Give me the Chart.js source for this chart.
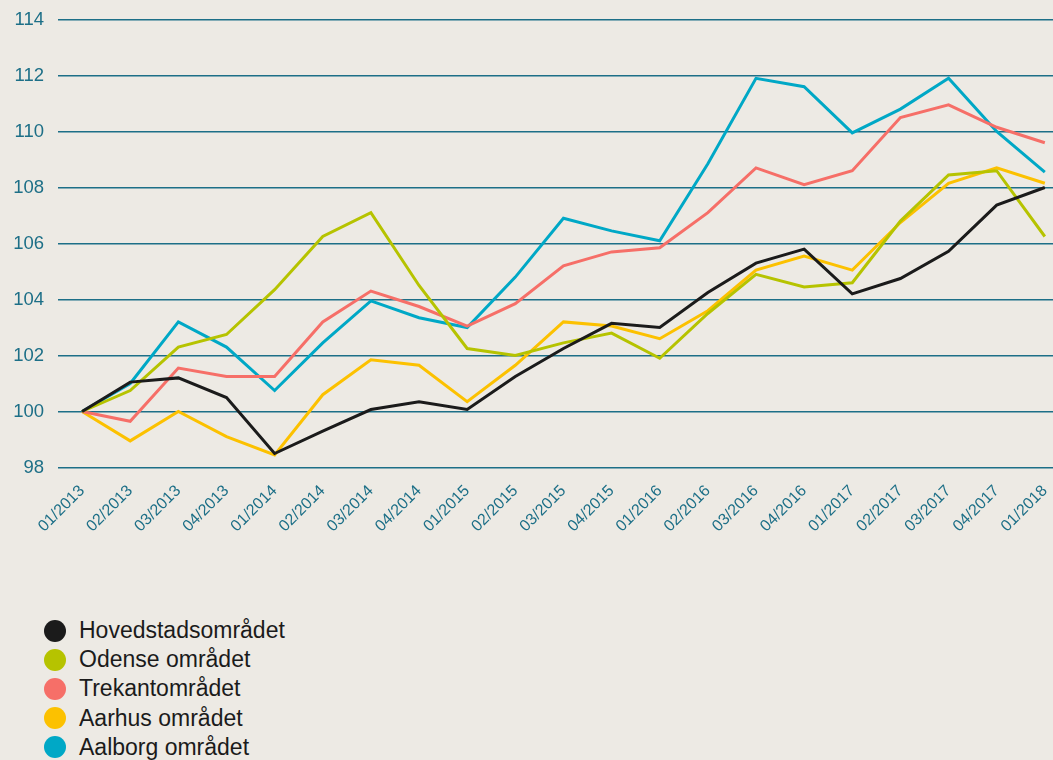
<!DOCTYPE html>
<html>
<head>
<meta charset="utf-8">
<script src="https://cdn.jsdelivr.net/npm/chart.js@4"></script>
<style>
  html, body { margin: 0; padding: 0; background: #edeae4; }
  body { width: 1053px; height: 760px; overflow: hidden; position: relative; font-family: "Liberation Sans", Arial, sans-serif; }
  #wrap { position: absolute; left: 0; top: 0; width: 1053px; height: 560px; }
  #legend { position: absolute; left: 44px; top: 616px; margin: 0; padding: 0; list-style: none; }
  #legend li { height: 29.2px; display: flex; align-items: center; font-size: 23px; color: #1b1b1b; }
  #legend .dot { width: 22px; height: 22px; border-radius: 50%; margin-right: 13px; flex: none; }
</style>
</head>
<body>
<div id="wrap"><canvas id="chart"></canvas></div>
<ul id="legend"></ul>
<script>
const xLabels = [
  "01/2013", "02/2013", "03/2013", "04/2013",
  "01/2014", "02/2014", "03/2014", "04/2014",
  "01/2015", "02/2015", "03/2015", "04/2015",
  "01/2016", "02/2016", "03/2016", "04/2016",
  "01/2017", "02/2017", "03/2017", "04/2017",
  "01/2018"
];
const yTicks = [98, 100, 102, 104, 106, 108, 110, 112, 114];

const hovedstad = [100, 101.05, 101.2, 100.5, 98.5, 99.3, 100.07, 100.35, 100.07, 101.25, 102.25, 103.15, 103.0, 104.25, 105.3, 105.8, 104.2, 104.75, 105.72, 107.37, 108.0];
const odense = [100, 100.75, 102.3, 102.75, 104.35, 106.25, 107.1, 104.5, 102.25, 102.0, 102.45, 102.8, 101.9, 103.5, 104.9, 104.45, 104.6, 106.8, 108.45, 108.6, 106.25];
const trekant = [100, 99.65, 101.55, 101.25, 101.25, 103.2, 104.3, 103.75, 103.05, 103.85, 105.2, 105.7, 105.85, 107.1, 108.7, 108.1, 108.6, 110.5, 110.95, 110.15, 109.6];
const aarhus = [100, 98.95, 100.0, 99.1, 98.45, 100.6, 101.85, 101.65, 100.35, 101.65, 103.2, 103.05, 102.6, 103.6, 105.05, 105.55, 105.05, 106.75, 108.15, 108.7, 108.15];
const aalborg = [100, 101.0, 103.2, 102.3, 100.75, 102.45, 103.95, 103.35, 103.0, 104.8, 106.9, 106.45, 106.1, 108.85, 111.9, 111.6, 109.95, 110.8, 111.9, 110.0, 108.55];

const series = [
  { name: "Hovedstadsområdet", values: hovedstad, color: "#1b1b1b" },
  { name: "Odense området", values: odense, color: "#b6c300" },
  { name: "Trekantområdet", values: trekant, color: "#f66f68" },
  { name: "Aarhus området", values: aarhus, color: "#fcc100" },
  { name: "Aalborg området", values: aalborg, color: "#00a8c6" }
];

const teal = "#1d6f87";

const ctx = document.getElementById("chart").getContext("2d");
new Chart(ctx, {
  type: "line",
  data: {
    datasets: series.map((s) => ({
      label: s.name,
      data: s.values.map((v, i) => ({ x: i, y: v })),
      borderColor: s.color,
      backgroundColor: s.color,
      borderWidth: 3,
      pointRadius: 0,
      tension: 0,
      fill: false
    }))
  },
  options: {
    responsive: true,
    maintainAspectRatio: false,
    animation: false,
    layout: { padding: { top: 19.5, right: 0, left: 0, bottom: 0 } },
    plugins: {
      legend: { display: false },
      tooltip: { enabled: false }
    },
    scales: {
      x: {
        type: "linear",
        min: -0.5,
        max: 20.17,
        border: { display: false },
        grid: { display: false, drawTicks: false },
        afterBuildTicks: (scale) => {
          scale.ticks = xLabels.map((_, i) => ({ value: i }));
        },
        afterFit: (scale) => {
          scale.height = 92.5;
          scale.paddingLeft = 0;
          scale.paddingRight = 0;
        },
        ticks: {
          autoSkip: false,
          maxRotation: 45,
          minRotation: 45,
          padding: 14,
          color: teal,
          font: { family: "'Liberation Sans', Arial, sans-serif", size: 16 },
          callback: (v) => xLabels[v]
        }
      },
      y: {
        min: 98,
        max: 114,
        border: { display: false },
        afterBuildTicks: (scale) => {
          scale.ticks = yTicks.map((v) => ({ value: v }));
        },
        afterFit: (scale) => {
          scale.width = 58;
          scale.paddingTop = 0;
          scale.paddingBottom = 0;
        },
        grid: { color: teal, lineWidth: 1.6, drawTicks: false },
        ticks: {
          padding: 14,
          color: teal,
          font: { family: "'Liberation Sans', Arial, sans-serif", size: 18.5 }
        }
      }
    }
  }
});

const legendEl = document.getElementById("legend");
series.forEach((s) => {
  const li = document.createElement("li");
  li.innerHTML = `<span class="dot" style="background:${s.color}"></span>${s.name}`;
  legendEl.appendChild(li);
});
</script>
</body>
</html>
